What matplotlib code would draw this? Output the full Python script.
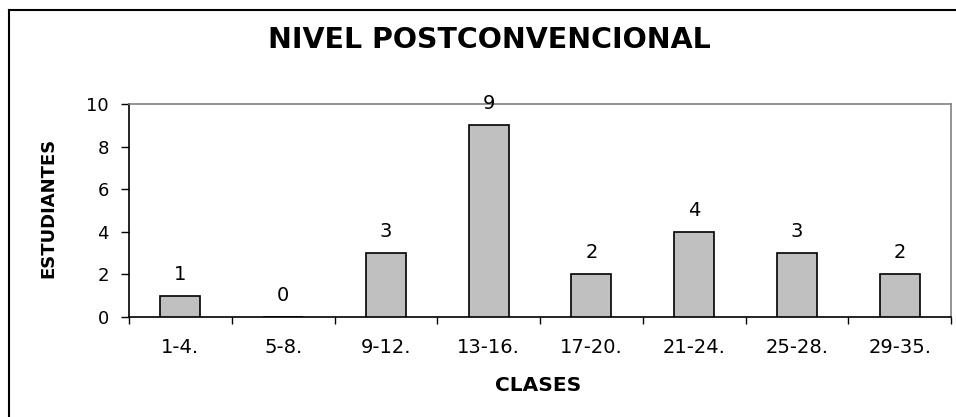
import matplotlib
matplotlib.use("Agg")
import matplotlib.pyplot as plt
from matplotlib.lines import Line2D

plt.rcParams['font.family'] = ['DejaVu Sans']

categories = ["1-4.", "5-8.", "9-12.", "13-16.", "17-20.", "21-24.", "25-28.", "29-35."]
values = [1, 0, 3, 9, 2, 4, 3, 2]
title = "NIVEL POSTCONVENCIONAL"
xlabel = "CLASES"
ylabel = "ESTUDIANTES"

W, H = 956, 417
fig = plt.figure(figsize=(W / 100, H / 100), dpi=100)
ax = fig.add_axes([129 / W, 1 - 317 / H, (951 - 129) / W, (317 - 104) / H])

x = list(range(len(categories)))
ax.bar(x, values, width=0.39, color="#C0C0C0", edgecolor="black", linewidth=1.2, zorder=3)
for xi, v in zip(x, values):
    ax.annotate(str(v), (xi, v), xytext=(0, 15.5), textcoords="offset points",
                ha="center", va="center", fontsize=14)

ax.set_xlim(-0.5, len(categories) - 0.5)
ax.set_ylim(0, 10)
ax.set_yticks(range(0, 11, 2))
ax.tick_params(axis="y", labelsize=13, length=6, width=1, pad=8.5)
ax.set_xticks([i - 0.5 for i in range(len(categories) + 1)], minor=False)
ax.set_xticklabels([])
ax.set_xticks(x, minor=True)
ax.set_xticklabels(categories, minor=True)
ax.tick_params(axis="x", which="major", length=5, width=1)
ax.tick_params(axis="x", which="minor", length=0, labelsize=14, pad=15)

for s in ["left", "bottom"]:
    ax.spines[s].set_color("black")
    ax.spines[s].set_linewidth(1.2)
for s in ["top", "right"]:
    ax.spines[s].set_color("#808080")
    ax.spines[s].set_linewidth(1.2)

fig.text(538 / W, 1 - 391 / H, xlabel, ha="center", va="baseline", fontsize=14.5, fontweight="bold")
fig.text(48.5 / W, 1 - 208 / H, ylabel, ha="center", va="center", fontsize=13, fontweight="bold", rotation=90)
fig.text(489 / W, 1 - 48 / H, title, ha="center", va="baseline", fontsize=20.5, fontweight="bold")

# outer chart-area border (left and top visible)
fig.add_artist(Line2D([8.5 / W, 8.5 / W], [0, 1 - 9.5 / H], transform=fig.transFigure, color="black", lw=1.5))
fig.add_artist(Line2D([8.5 / W, 1], [1 - 9.5 / H, 1 - 9.5 / H], transform=fig.transFigure, color="black", lw=1.5))

fig.savefig("out.png", dpi=100)
